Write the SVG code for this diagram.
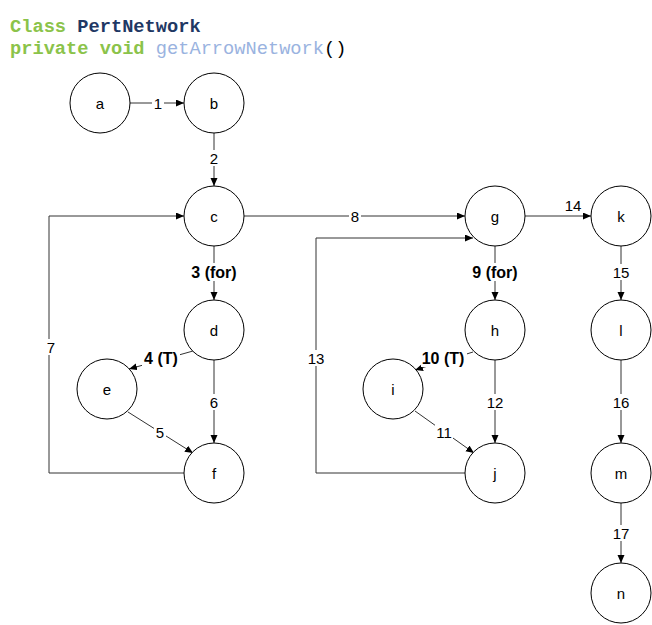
<svg xmlns="http://www.w3.org/2000/svg" width="652" height="625" viewBox="0 0 652 625">
<style>
.node circle{fill:#fff;stroke:#000;stroke-width:1}
.node text{font-family:"Liberation Sans",Arial,sans-serif;font-size:15px;text-anchor:middle;dominant-baseline:central;fill:#000}
.edge{fill:none;stroke:#333;stroke-width:1;marker-end:url(#arr)}
.lbl{font-family:"Liberation Sans",Arial,sans-serif;font-size:15px;text-anchor:middle;dominant-baseline:central;fill:#000}
.b{font-weight:bold;font-size:16px}
.bg{fill:#fff}
.code{font-family:"Liberation Mono","Courier New",monospace;font-size:18.7px;font-weight:bold}
</style>
<defs>
<marker id="arr" markerUnits="userSpaceOnUse" markerWidth="9" markerHeight="8" refX="8" refY="3.5" orient="auto">
<path d="M0,0 L8,3.5 L0,7 z" fill="#000"/>
</marker>
</defs>
<rect width="652" height="625" fill="#fff"/>
<text class="code" x="10" y="32"><tspan fill="#8BC34A">Class</tspan> <tspan fill="#1F3864">PertNetwork</tspan></text>
<text class="code" x="10" y="54"><tspan fill="#8BC34A">private void</tspan> <tspan fill="#9AB3E0" font-weight="normal">getArrowNetwork</tspan><tspan fill="#000" font-weight="normal">()</tspan></text>

<g id="connectors">
<path class="edge" d="M130,103 H184"/>
<path class="edge" d="M214,133 V186"/>
<path class="edge" d="M214,246 V300"/>
<path class="edge" d="M193,351 L129,369"/>
<path class="edge" d="M128,412 L193,453"/>
<path class="edge" d="M214,360 V443"/>
<path class="edge" d="M184,473 H49 V216 H184"/>
<path class="edge" d="M244,216 H465"/>
<path class="edge" d="M495,246 V300"/>
<path class="edge" d="M473,352 L415,370"/>
<path class="edge" d="M415,411 L474,453"/>
<path class="edge" d="M495,360 V443"/>
<path class="edge" d="M465,473 H316 V238 H473"/>
<path class="edge" d="M525,216 H591"/>
<path class="edge" d="M621,246 V300"/>
<path class="edge" d="M621,360 V443"/>
<path class="edge" d="M621,503 V563"/>

<rect class="bg" x="152" y="95" width="12" height="16"/><text class="lbl" x="158" y="103">1</text>
<rect class="bg" x="208" y="150" width="12" height="16"/><text class="lbl" x="214" y="158">2</text>
<rect class="bg" x="187" y="263" width="54" height="18"/><text class="lbl b" x="214" y="272">3 (for)</text>
<rect class="bg" x="142" y="349" width="38" height="18"/><text class="lbl b" x="161" y="358">4 (T)</text>
<rect class="bg" x="154" y="424" width="12" height="16"/><text class="lbl" x="160" y="432">5</text>
<rect class="bg" x="208" y="394" width="12" height="16"/><text class="lbl" x="214" y="402">6</text>
<rect class="bg" x="44" y="339" width="12" height="16"/><text class="lbl" x="51" y="347">7</text>
<rect class="bg" x="349" y="208" width="12" height="16"/><text class="lbl" x="355" y="216">8</text>
<rect class="bg" x="468" y="263" width="54" height="18"/><text class="lbl b" x="495" y="272">9 (for)</text>
<rect class="bg" x="421" y="349" width="46" height="18"/><text class="lbl b" x="443" y="358">10 (T)</text>
<rect class="bg" x="435" y="424" width="18" height="16"/><text class="lbl" x="444" y="432">11</text>
<rect class="bg" x="486" y="394" width="18" height="16"/><text class="lbl" x="495" y="402">12</text>
<rect class="bg" x="307" y="350" width="18" height="16"/><text class="lbl" x="316" y="358">13</text>
<text class="lbl" x="573" y="205">14</text>
<rect class="bg" x="612" y="264" width="18" height="16"/><text class="lbl" x="621" y="272">15</text>
<rect class="bg" x="612" y="394" width="18" height="16"/><text class="lbl" x="621" y="402">16</text>
<rect class="bg" x="612" y="525" width="18" height="16"/><text class="lbl" x="621" y="533">17</text>
</g>

<g id="a" class="node"><circle cx="100" cy="103" r="30"/><text x="100" y="103">a</text></g>
<g id="b" class="node"><circle cx="214" cy="103" r="30"/><text x="214" y="103">b</text></g>
<g id="c" class="node"><circle cx="214" cy="216" r="30"/><text x="214" y="216">c</text></g>
<g id="d" class="node"><circle cx="214" cy="330" r="30"/><text x="214" y="330">d</text></g>
<g id="e" class="node"><circle cx="107" cy="389" r="30"/><text x="107" y="389">e</text></g>
<g id="f" class="node"><circle cx="214" cy="473" r="30"/><text x="214" y="473">f</text></g>
<g id="g" class="node"><circle cx="495" cy="216" r="30"/><text x="495" y="216">g</text></g>
<g id="h" class="node"><circle cx="495" cy="330" r="30"/><text x="495" y="330">h</text></g>
<g id="i" class="node"><circle cx="393" cy="389" r="30"/><text x="393" y="389">i</text></g>
<g id="j" class="node"><circle cx="495" cy="473" r="30"/><text x="495" y="473">j</text></g>
<g id="k" class="node"><circle cx="621" cy="216" r="30"/><text x="621" y="216">k</text></g>
<g id="l" class="node"><circle cx="621" cy="330" r="30"/><text x="621" y="330">l</text></g>
<g id="m" class="node"><circle cx="621" cy="473" r="30"/><text x="621" y="473">m</text></g>
<g id="n" class="node"><circle cx="621" cy="593" r="30"/><text x="621" y="593">n</text></g>
</svg>
